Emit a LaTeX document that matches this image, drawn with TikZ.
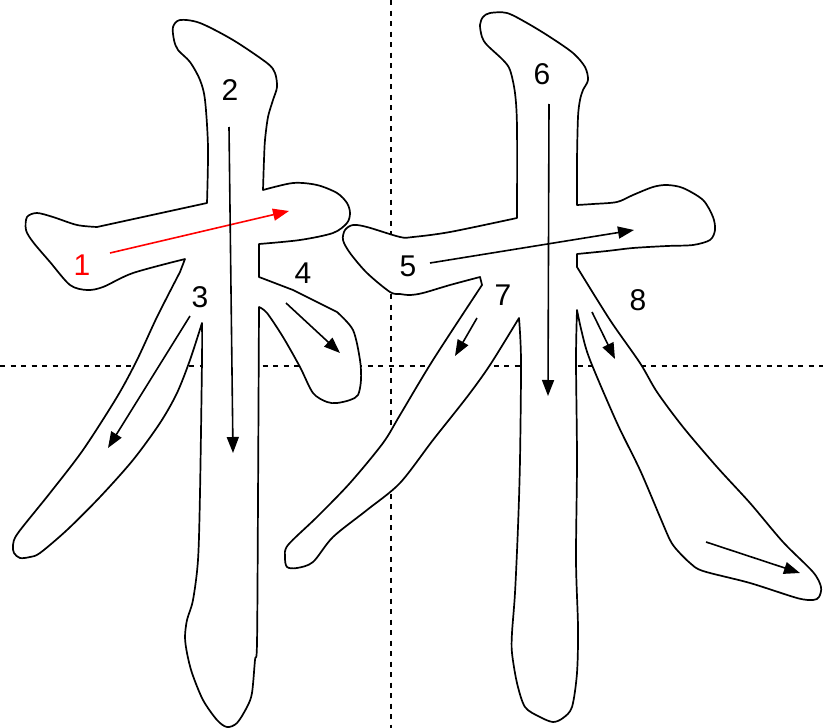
\documentclass[tikz,border=0pt]{standalone}
\usepackage{fontspec}
\setmainfont{Liberation Sans}
\usetikzlibrary{arrows.meta}
\begin{document}
\begin{tikzpicture}[x=1pt,y=-1pt,
  guide/.style={line width=2.4pt,dash pattern=on 5pt off 5.5pt},
  outline/.style={draw=black,fill=white,line width=1.7pt,line join=round},
  sarrow/.style={line width=1.6pt,-{Triangle[length=16pt,width=12pt]}},
  num/.style={font=\fontsize{30}{30}\selectfont,inner sep=0pt}]
\useasboundingbox (0,0) rectangle (823,728);
% guide lines
\coordinate (gt) at (391,0); \coordinate (gb) at (391,728);
\coordinate (gl) at (0,366); \coordinate (gr) at (823,366);
\draw[guide] (gt) -- (gb);
\draw[guide] (gl) -- (gr);
% left character
\draw[outline] (185,259) -- (180,272)
  -- plot[smooth,tension=0.5] coordinates {(180,272) (157,317) (137,360) (117,397) (83,450) (50,493) (18,533) (13,545) (14,553) (20,558) (30,557) (40,553) (67,530) (100,497) (133,460) (160,423) (177,393) (190,360) (202,323)}
  -- plot[smooth,tension=0.5] coordinates {(202,323) (202,360) (200,493) (198,560) (193,600) (187,620) (185,637) (187,653) (192,673) (203,700) (217,720) (227,727) (237,723) (247,707) (252,693) (255,660) (257,643) (258,500) (259,307)}
  -- plot[smooth,tension=0.5] coordinates {(259,307) (267,313) (283,337) (300,367) (313,393) (327,402) (337,403) (350,400) (358,395) (361,380) (360,360) (353,330) (337,312)}
  -- (293,290) -- (259,277) -- (259,244)
  -- plot[smooth,tension=0.5] coordinates {(259,244) (300,240) (333,233) (347,223) (350,213) (347,203) (337,193) (317,185) (293,183) (263,190)}
  -- plot[smooth,tension=0.5] coordinates {(263,190) (264,160) (265,140) (268,117) (273,100) (277,87) (275,73) (267,63) (233,40) (200,23) (180,20) (173,27) (174,40) (178,50) (190,62) (200,80) (205,100) (208,147) (207,203)}
  -- (97,227)
  -- plot[smooth,tension=0.5] coordinates {(97,227) (77,225) (53,217) (37,213) (27,217) (26,230) (33,242) (50,262) (70,285) (87,290) (103,287) (133,273) (185,259)}
  -- cycle;
% right character
\draw[outline] (517,218)
  -- plot[smooth,tension=0.5] coordinates {(517,218) (517,127) (515,93) (510,70) (503,60) (487,45) (482,37) (480,25) (483,17) (490,13) (507,13) (527,23) (550,37) (573,53) (585,67) (588,80) (583,90) (580,100) (578,117) (577,160) (577,205)}
  -- plot[smooth,tension=0.5] coordinates {(577,205) (593,204) (617,202) (633,195) (653,187) (667,185) (683,188) (703,200) (713,217) (715,230) (710,240) (693,245) (667,246) (633,248) (607,251) (577,254)}
  -- (577,267)
  -- plot[smooth,tension=0.5] coordinates {(577,267) (610,320) (640,363) (657,392) (683,427) (717,467) (750,503) (783,542) (813,572) (821,587) (819,597) (813,600) (797,598) (750,583) (703,571) (690,563) (677,550) (670,540) (660,517) (640,470) (617,423) (590,360) (582,333) (577,310)}
  -- plot[smooth,tension=0.5] coordinates {(577,310) (576,360) (577,460) (576,560) (578,627) (577,673) (572,707) (563,718) (553,722) (540,717) (525,707) (517,683) (512,653) (512,633) (515,593) (518,527) (520,460) (521,360) (519,318)}
  -- plot[smooth,tension=0.5] coordinates {(519,318) (490,365) (467,397) (433,440) (400,483) (367,510) (333,537) (313,562) (297,568) (287,567) (285,557) (288,545) (317,517) (350,483) (383,443) (400,415) (433,360) (482,285)}
  -- (480,277)
  -- plot[smooth,tension=0.5] coordinates {(480,277) (450,285) (423,293) (410,295) (400,294) (390,292) (367,273) (350,253) (343,240) (345,230) (353,225) (367,227) (400,237) (413,237) (450,232) (517,218)}
  -- cycle;
% arrows
\coordinate (a1s) at (110,253); \coordinate (a1e) at (289,211);
\coordinate (a2s) at (229,127); \coordinate (a2e) at (233,453);
\coordinate (a3s) at (190,316); \coordinate (a3e) at (108,448);
\coordinate (a4s) at (286,303); \coordinate (a4e) at (340,353);
\coordinate (a5s) at (430,263); \coordinate (a5e) at (634,230);
\coordinate (a6s) at (549,104); \coordinate (a6e) at (548,396);
\coordinate (a7s) at (477,318); \coordinate (a7e) at (455,356);
\coordinate (a8s) at (592,312); \coordinate (a8e) at (615,359);
\coordinate (a9s) at (706,542); \coordinate (a9e) at (800,573);
\draw[sarrow,red] (a1s) -- (a1e);
\draw[sarrow] (a2s) -- (a2e);
\draw[sarrow] (a3s) -- (a3e);
\draw[sarrow] (a4s) -- (a4e);
\draw[sarrow] (a5s) -- (a5e);
\draw[sarrow] (a6s) -- (a6e);
\draw[sarrow] (a7s) -- (a7e);
\draw[sarrow] (a8s) -- (a8e);
\draw[sarrow] (a9s) -- (a9e);
% numbers
\node[num,red] (n1) at (82,265) {1};
\node[num] (n2) at (230,90) {2};
\node[num] (n3) at (200,297) {3};
\node[num] (n4) at (303,273) {4};
\node[num] (n5) at (408,266) {5};
\node[num] (n6) at (542,74) {6};
\node[num] (n7) at (503,295) {7};
\node[num] (n8) at (638,300) {8};
\end{tikzpicture}
\end{document}
